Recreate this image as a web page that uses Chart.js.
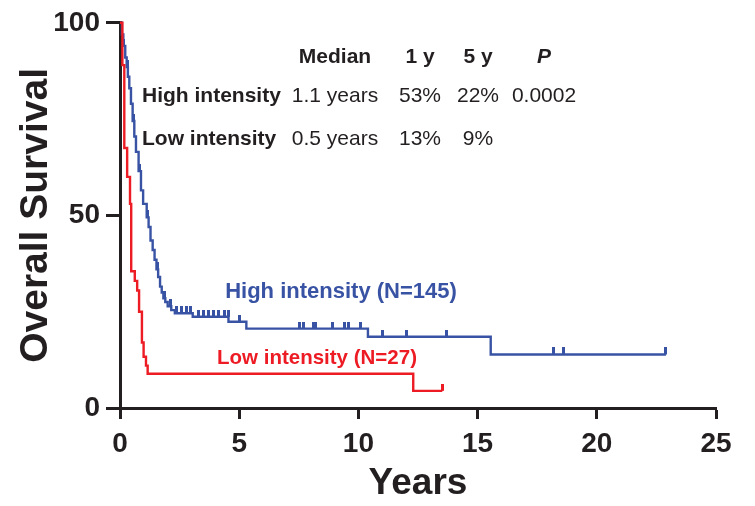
<!DOCTYPE html>
<html>
<head>
<meta charset="utf-8">
<title>Overall Survival</title>
<script src="https://cdn.jsdelivr.net/npm/chart.js@4/dist/chart.umd.min.js"></script>
<style>
  html, body { margin: 0; padding: 0; background: #fff; }
  #wrap { width: 755px; height: 506px; }
</style>
</head>
<body>
<div id="wrap"><canvas id="kmChart" width="755" height="506"></canvas></div>
<script>
// Kaplan-Meier step points: time in years, survival (%) from that time on
const highTimes = [0, 0.08, 0.14, 0.22, 0.28, 0.33, 0.39, 0.46, 0.53, 0.6, 0.67, 0.78, 0.88, 0.97,
                   1.12, 1.2, 1.28, 1.37, 1.45, 1.53, 1.6, 1.68, 1.75, 1.82, 1.9, 2.0, 2.15, 2.3,
                   3.05, 4.55, 5.3, 10.4, 15.55, 22.9];
const highSurv  = [100, 97, 94, 91, 88.5, 86, 83, 79, 74.5, 70.5, 66.5, 61.5, 56.5, 53,
                   49.5, 47, 43.5, 41, 38.5, 36, 34, 31.5, 30, 28.5, 27.5, 26.4, 25.4, 24.6,
                   23.7, 22.4, 20.6, 18.5, 13.9, 13.9];
const highCensor = [0.14, 0.3, 0.55, 0.8, 1.16, 1.56, 1.85, 2.1, 2.38, 2.59, 2.8, 2.94, 3.28, 3.5,
                    3.7, 3.91, 4.12, 4.4, 4.54, 5.03, 7.55, 7.7, 8.1, 8.2, 8.9, 9.4, 9.6, 10.1,
                    11.0, 12.0, 13.7, 18.2, 18.6, 22.9];

const lowTimes  = [0, 0.1, 0.18, 0.3, 0.42, 0.47, 0.62, 0.72, 0.8, 0.92, 0.99, 1.09, 1.16, 12.3, 13.52];
const lowSurv   = [100, 89, 67.5, 60, 53, 35.5, 33, 30.5, 25, 17, 13.3, 11, 8.9, 4.45, 4.45];
const lowCensor = [13.52];

const xTicks = [0, 5, 10, 15, 20, 25];
const yTicks = [0, 50, 100];

const tableHeader = ['Median', '1 y', '5 y', 'P'];
const highRow = ['High intensity', '1.1 years', '53%', '22%', '0.0002'];
const lowRow  = ['Low intensity', '0.5 years', '13%', '9%'];
const seriesLabels = ['High intensity (N=145)', 'Low intensity (N=27)'];

const BLUE = '#3953A4';
const RED = '#ED1C24';
const INK = '#231F20';
const FONT = '"Liberation Sans", Arial, sans-serif';

function stepPoints(times, surv) {
    return times.map((t, i) => ({ x: t, y: surv[i] }));
}

// survival value in effect at time t (last step at or before t)
function survivalAt(times, surv, t) {
    let v = surv[0];
    for (let i = 0; i < times.length; i++) {
        if (times[i] <= t) v = surv[i];
    }
    return v;
}

// small upward tick used for censored observations
function censorMark(color) {
    const c = document.createElement('canvas');
    c.width = 3;
    c.height = 14;
    const g = c.getContext('2d');
    g.fillStyle = color;
    g.fillRect(0, 0, 3, 7);
    return c;
}

function censorPoints(cens, times, surv) {
    return cens.map(t => ({ x: t, y: survivalAt(times, surv, t) }));
}

const textOverlay = {
    id: 'kmText',
    afterDraw(chart) {
        const ctx = chart.ctx;
        ctx.save();
        ctx.textBaseline = 'alphabetic';
        ctx.fillStyle = INK;

        const cols = [335, 420, 478, 544];
        ctx.textAlign = 'center';
        ctx.font = 'bold 21px ' + FONT;
        tableHeader.slice(0, 3).forEach((h, i) => ctx.fillText(h, cols[i], 63));
        ctx.font = 'italic bold 21px ' + FONT;
        ctx.fillText(tableHeader[3], cols[3], 63);

        [[highRow, 101.5], [lowRow, 145]].forEach(([row, y]) => {
            ctx.textAlign = 'left';
            ctx.font = 'bold 21px ' + FONT;
            ctx.fillText(row[0], 142, y);
            ctx.textAlign = 'center';
            ctx.font = '21px ' + FONT;
            row.slice(1).forEach((v, i) => ctx.fillText(v, cols[i], y));
        });

        ctx.font = 'bold 22px ' + FONT;
        ctx.fillStyle = BLUE;
        ctx.fillText(seriesLabels[0], 341, 298);
        ctx.font = 'bold 20.5px ' + FONT;
        ctx.fillStyle = RED;
        ctx.fillText(seriesLabels[1], 317, 364);
        ctx.restore();
    }
};

new Chart(document.getElementById('kmChart'), {
    type: 'line',
    data: {
        datasets: [{
            label: 'Low intensity',
            data: stepPoints(lowTimes, lowSurv),
            borderColor: RED,
            borderWidth: 2.4,
            stepped: 'before',
            pointRadius: 0,
            clip: false
        }, {
            label: 'High intensity',
            data: stepPoints(highTimes, highSurv),
            borderColor: BLUE,
            borderWidth: 2.4,
            stepped: 'before',
            pointRadius: 0,
            clip: false
        }, {
            type: 'scatter',
            data: censorPoints(lowCensor, lowTimes, lowSurv),
            pointStyle: censorMark(RED),
            showLine: false,
            clip: false
        }, {
            type: 'scatter',
            data: censorPoints(highCensor, highTimes, highSurv),
            pointStyle: censorMark(BLUE),
            showLine: false,
            clip: false
        }]
    },
    options: {
        responsive: false,
        animation: false,
        layout: { padding: { top: 22, right: 39, bottom: 0, left: 0 } },
        plugins: { legend: { display: false }, tooltip: { enabled: false } },
        scales: {
            x: {
                type: 'linear',
                min: 0,
                max: 25,
                afterBuildTicks: s => { s.ticks = xTicks.map(v => ({ value: v })); },
                afterFit: s => { s.height = 98; },
                border: { color: INK, width: 3 },
                grid: { drawOnChartArea: false, drawTicks: true, tickLength: 11, tickWidth: 3, tickColor: INK },
                ticks: { color: INK, padding: 8, font: { family: FONT, size: 28, weight: 'bold' } },
                title: {
                    display: true,
                    text: 'Years',
                    color: INK,
                    padding: { top: 0, bottom: 0 },
                    font: { family: FONT, size: 37, weight: 'bold' }
                }
            },
            y: {
                type: 'linear',
                min: 0,
                max: 100,
                afterBuildTicks: s => { s.ticks = yTicks.map(v => ({ value: v })); },
                afterFit: s => { s.width = 120; },
                border: { color: INK, width: 3 },
                grid: { drawOnChartArea: false, drawTicks: true, tickLength: 14, tickWidth: 3, tickColor: INK },
                ticks: { color: INK, padding: 6, font: { family: FONT, size: 28, weight: 'bold' } },
                title: {
                    display: true,
                    text: 'Overall Survival',
                    color: INK,
                    padding: { top: 13, bottom: 0 },
                    font: { family: FONT, size: 39, weight: 'bold' }
                }
            }
        }
    },
    plugins: [textOverlay]
});
</script>
</body>
</html>
